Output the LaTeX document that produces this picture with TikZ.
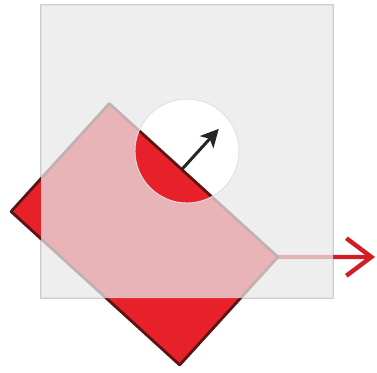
\documentclass[tikz,border=0pt]{standalone}
\usetikzlibrary{arrows.meta}
\definecolor{cardred}{RGB}{232,32,42}
\definecolor{cardedge}{RGB}{90,20,20}
\definecolor{frost}{RGB}{233,233,233}
\definecolor{frame}{RGB}{205,205,205}
\begin{document}
\begin{tikzpicture}[x=0.02cm,y=0.02cm,>=Stealth]
\useasboundingbox (0,0) rectangle (377,372);
\fill[white] (0,0) rectangle (377,372);
\coordinate (sq_sw) at (41,74);
\coordinate (sq_ne) at (333,367);
\coordinate (hole_c) at (187,221);
\coordinate (push_end) at (375,115);
\begin{scope}[shift={(144.5,137.75)},rotate=-42.3]
\coordinate (rc_nw) at (-114,73);
\coordinate (rc_ne) at (114,73);
\coordinate (rc_se) at (114,-73);
\coordinate (rc_sw) at (-114,-73);
\coordinate (nrm_a) at (-16,73);
\coordinate (nrm_b) at (-16,128);
\end{scope}
\draw[frame,line width=0.6pt] (sq_sw) rectangle (sq_ne);
\draw[cardred!90!black,line width=2.5pt,-{Straight Barb[length=5mm,width=7.5mm]}] (rc_ne)--(push_end);
\draw[cardedge,fill=cardred,line width=1.6pt,line join=round] (rc_nw)--(rc_ne)--(rc_se)--(rc_sw)--cycle;
\fill[frost,fill opacity=0.74,even odd rule] (sq_sw) rectangle (sq_ne) (hole_c) circle[radius=52];
\draw[black!12,line width=0.5pt] (hole_c) circle[radius=52];
\draw[black!85,line width=1.7pt,-{Stealth[length=3.6mm,width=3.6mm,inset=0.9mm]}] (nrm_a)--(nrm_b);
\end{tikzpicture}
\end{document}
